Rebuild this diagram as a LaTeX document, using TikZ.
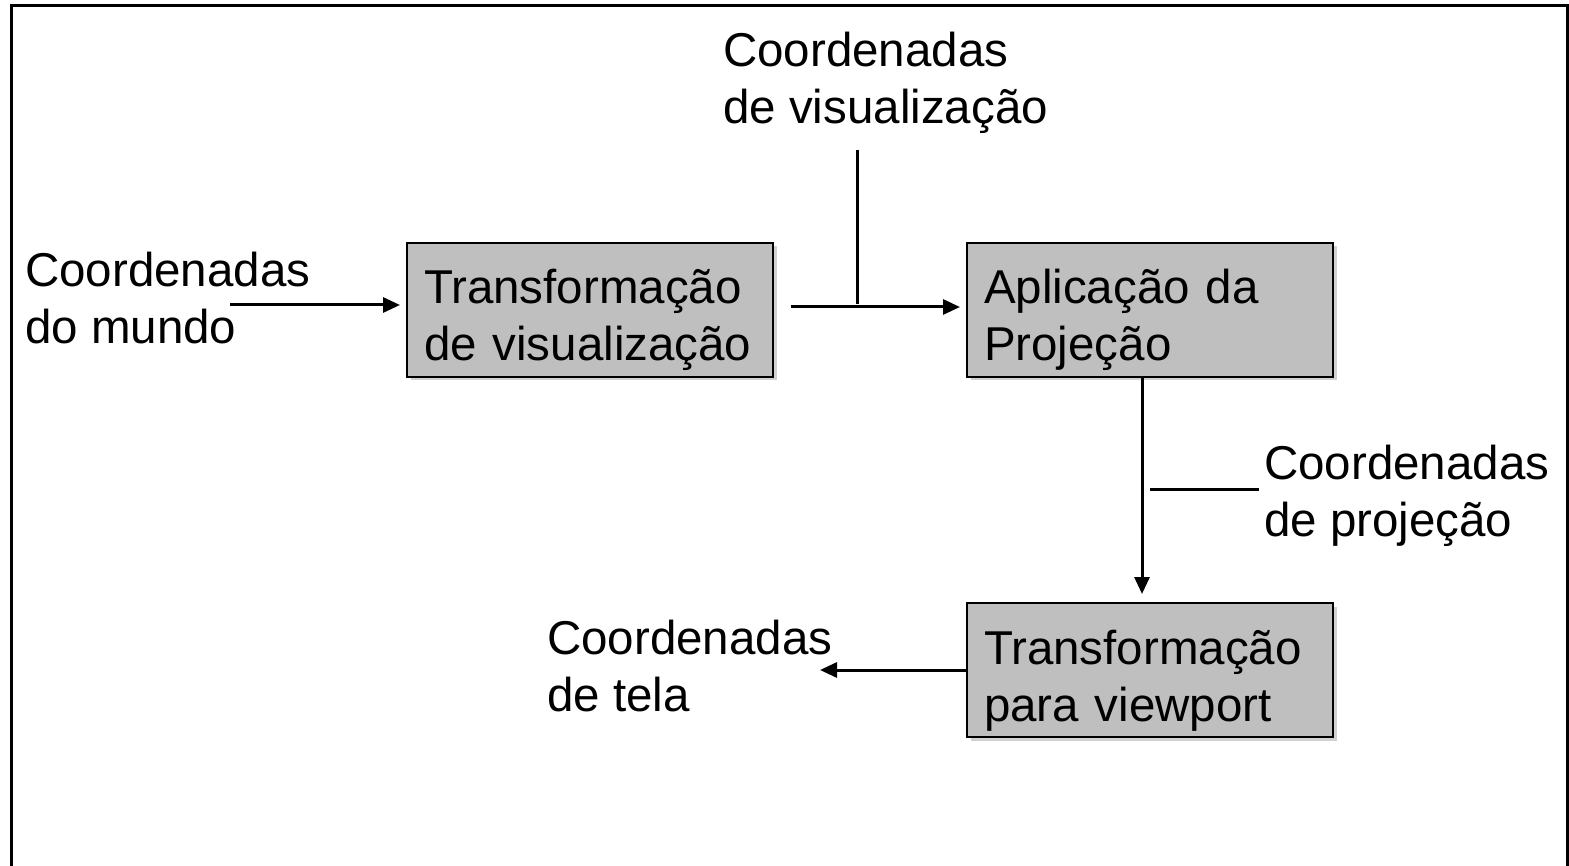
\documentclass[tikz,border=0pt]{standalone}
\usepackage{fontspec}
\setmainfont{Liberation Sans}
\usetikzlibrary{arrows.meta,shadows}
\tikzset{
  lbl/.style={inner sep=0pt, align=left, font=\fontsize{47.5}{57}\selectfont},
  stagebox/.style={draw=black, line width=2pt, fill=black!25,
    drop shadow={shadow xshift=3.5pt, shadow yshift=-3.5pt, fill=black!18, opacity=1},
    align=left, text width=332pt, inner xsep=17pt, inner ysep=0pt,
    text height=61pt, text depth=73pt, font=\fontsize{47.5}{57}\selectfont},
  arr/.style={line width=3pt, -{Triangle[length=17pt,width=15pt]}},
  plain/.style={line width=3pt},
}
\begin{document}
\begin{tikzpicture}[x=1pt,y=-1pt]
\useasboundingbox (0,0) rectangle (1569,866);
\fill[white] (0,0) rectangle (1569,866);
% outer frame (no bottom edge)
\draw[line width=3.5pt] (11.5,870) -- (11.5,5.5) -- (1567.5,5.5) -- (1567.5,870);

% stage boxes
\node[stagebox, anchor=base west] (b1) at (406,304) {Transformação\\de visualização};
\node[stagebox, anchor=base west] (b2) at (966,304) {Aplicação da\\Projeção};
\node[stagebox, anchor=base west] (b3) at (966,664) {Transformação\\para viewport};

% labels (base anchor = baseline of last line)
\node[lbl, anchor=base west] (lmundo) at (25,344) {Coordenadas\\do mundo};
\node[lbl, anchor=base west] (lvis) at (723,124) {Coordenadas\\de visualização};
\node[lbl, anchor=base west] (lproj) at (1264,536) {Coordenadas\\de projeção};
\node[lbl, anchor=base west] (ltela) at (547,711) {Coordenadas\\de tela};

% connectors
\coordinate (a1s) at (230,305);
\draw[arr, shorten >=6pt] (a1s) -- (a1s -| b1.west);

\coordinate (a2s) at (791,307);
\draw[arr, shorten >=6pt] (a2s) -- (a2s -| b2.west);

\coordinate (vt) at (857,150);
\draw[plain, shorten >=3pt] (vt) -- (vt |- a2s);

\coordinate (a3s) at (1142,377);
\draw[arr, shorten >=8pt] (a3s) -- (a3s |- b3.north);

\coordinate (pl1) at (1150,489);
\coordinate (pl2) at (1259,489);
\draw[plain] (pl1) -- (pl2);

\coordinate (a4e) at (820,670);
\draw[arr] (b3.west |- a4e) -- (a4e);
\end{tikzpicture}
\end{document}
